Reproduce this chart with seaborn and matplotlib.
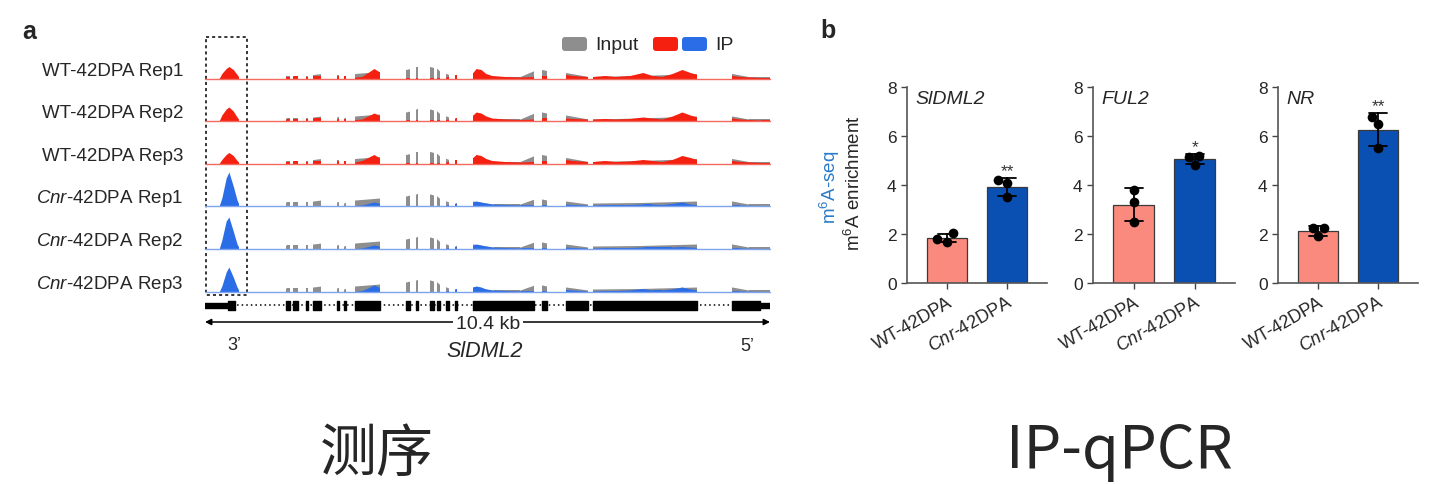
import numpy as np
import pandas as pd
import matplotlib
matplotlib.use("Agg")
import matplotlib.pyplot as plt
import seaborn as sns
from matplotlib.path import Path
from matplotlib.patches import Rectangle, FancyBboxPatch

# ---------------- data: panel a (coverage tracks, positions in kb) ----------------
gene_length_kb = 10.4
exon_start = [0.00, 1.49, 1.62, 1.86, 1.99, 2.43, 2.56, 2.76, 3.70, 3.88, 4.14, 4.27, 4.44, 4.60, 4.93, 6.20, 6.64, 7.14, 9.70]
exon_end = [0.62, 1.56, 1.71, 1.90, 2.14, 2.47, 2.60, 3.22, 3.77, 3.92, 4.21, 4.33, 4.49, 4.64, 6.06, 6.29, 7.05, 9.06, 10.40]
cds_start = [0.42, 1.49, 1.62, 1.86, 1.99, 2.43, 2.56, 2.76, 3.70, 3.88, 4.14, 4.27, 4.44, 4.60, 4.93, 6.20, 6.64, 7.14, 9.70]
cds_end = [0.55, 1.56, 1.71, 1.90, 2.14, 2.47, 2.60, 3.22, 3.77, 3.92, 4.21, 4.33, 4.49, 4.64, 6.06, 6.29, 7.05, 9.06, 10.22]
utr_start = [0.00, 10.22]
utr_end = [0.42, 10.40]

input_pos = [0.00, 0.62, 1.49, 1.56, 1.62, 1.71, 1.86, 1.90, 1.99, 2.14, 2.43, 2.47, 2.56, 2.60,
             2.76, 3.22, 3.70, 3.77, 3.88, 3.92, 4.14, 4.21, 4.27, 4.33, 4.44, 4.49, 4.60, 4.64,
             4.93, 5.30, 5.80, 6.06, 6.20, 6.29, 6.64, 7.05, 7.14, 8.00, 9.06, 9.70, 10.00, 10.40]
input_wt = [0, 0, 3, 3, 3, 3, 3, 3, 4, 5, 4, 4, 3, 3,
            5, 7, 9, 10, 12, 12, 12, 11, 10, 7, 5, 4, 3, 3,
            4, 2, 2, 8, 9, 8, 6, 2, 2, 3, 5, 5, 2, 2]
input_cnr = [0, 0, 4, 4, 4, 4, 4, 4, 5, 6, 4, 4, 3, 3,
             6, 8, 10, 11, 12, 12, 12, 11, 10, 7, 5, 4, 3, 3,
             5, 2, 2, 7, 7, 6, 5, 2, 3, 3.5, 5, 5, 2, 2]

ip_pos = [0.26, 0.31, 0.39, 0.44, 0.52, 0.59, 0.63,
          1.49, 1.56, 1.62, 1.71, 1.86, 1.90, 1.99, 2.14,
          2.43, 2.60,
          2.76, 2.89, 3.00, 3.11, 3.20, 3.22,
          3.70, 4.33, 4.44, 4.60, 4.64,
          4.93, 4.99, 5.08, 5.17, 5.28, 5.52, 5.80, 6.06,
          6.20, 6.29,
          6.64, 6.76, 7.05,
          7.14, 7.36, 7.55, 7.82, 8.06, 8.23, 8.41, 8.60, 8.78, 8.93, 9.06,
          9.70, 9.85, 10.22, 10.40]
ip_wt_rep1 = [0, 5, 10, 12, 9, 4, 1, 2, 2, 2.5, 2.5, 2, 2, 3, 3, 2.5, 2.5,
              1.5, 2, 6, 10, 7, 6, 1, 1, 1.5, 4, 4, 6, 10, 9, 5, 3, 2, 1.5, 2,
              3, 3, 4, 3, 2, 2, 3, 2, 3, 6, 3, 2, 5, 9, 6, 4, 3, 2, 1, 1]
ip_wt_rep2 = [0, 6, 12, 14, 10, 4, 1, 2, 2, 2, 2, 2, 2, 3, 3, 2, 2,
              1.5, 2, 5, 8, 6, 5, 1, 1, 1.5, 3, 3, 6, 9, 8, 5, 3, 2, 1.5, 2,
              3, 3, 3, 2.5, 2, 2, 2.5, 2, 2.5, 4, 3, 2, 5, 9, 6, 4, 3, 2, 1, 1]
ip_wt_rep3 = [0, 4, 9, 11, 8, 3, 1, 2, 2, 2.5, 2.5, 2, 2, 3, 3, 2.5, 2.5,
              1.5, 3, 6, 9, 6, 5, 1, 1, 1.5, 4, 4, 6, 9, 8, 5, 3, 2, 1.5, 2,
              3, 3, 4, 3, 2, 2, 3, 2, 2.5, 4, 3, 2, 4, 8, 6, 4, 3, 2, 1, 1]
ip_cnr_rep1 = [0, 8, 28, 34, 20, 6, 1, 0.5, 0.5, 0.5, 0.5, 0.5, 0.5, 0.5, 0.5, 0.5, 0.5,
               0.5, 1, 2.5, 4, 3, 2, 0.5, 0.5, 1, 2.5, 2.5, 4, 5, 4, 3, 2, 1.5, 1, 1,
               1, 1, 2, 1.5, 1, 1, 1.5, 1.5, 1.5, 2, 2, 1.5, 2.5, 4, 2, 1.5, 1, 1, 0.5, 0.5]
ip_cnr_rep2 = [0, 9, 28, 32, 18, 5, 1, 0.5, 0.5, 0.5, 0.5, 0.5, 0.5, 0.5, 0.5, 0.5, 0.5,
               0.5, 1, 2.5, 4, 3, 2, 0.5, 0.5, 1, 2.5, 2.5, 4, 5, 4, 3, 2, 1.5, 1, 1,
               1, 1, 2, 1.5, 1, 1, 1.5, 1.5, 1.5, 2, 2, 2, 2, 2.5, 2, 1.5, 1, 1, 0.5, 0.5]
ip_cnr_rep3 = [0, 6, 20, 25, 15, 5, 1, 0.5, 0.5, 0.5, 0.5, 0.5, 0.5, 0.5, 0.5, 0.5, 0.5,
               0.5, 1.5, 4, 7, 5, 3, 0.5, 0.5, 1, 3, 3, 5, 6, 5, 3, 2, 1.5, 1, 1,
               1, 1, 2.5, 2, 1, 1, 1.5, 1.5, 2, 3.5, 2, 2, 3, 5, 3, 2, 1, 1, 0.5, 0.5]

track_labels = ["WT-42DPA Rep1", "WT-42DPA Rep2", "WT-42DPA Rep3",
                r"$\it{Cnr}$-42DPA Rep1", r"$\it{Cnr}$-42DPA Rep2", r"$\it{Cnr}$-42DPA Rep3"]
track_genotype = ["WT", "WT", "WT", "Cnr", "Cnr", "Cnr"]
track_ip = [ip_wt_rep1, ip_wt_rep2, ip_wt_rep3, ip_cnr_rep1, ip_cnr_rep2, ip_cnr_rep3]

# ---------------- data: panel b (m6A enrichment, IP-qPCR) ----------------
groups = ["WT-42DPA", "Cnr-42DPA"]
genes = ["SlDML2", "FUL2", "NR"]
sldml2_wt = [2.03, 1.69, 1.80]
sldml2_cnr = [4.20, 4.07, 3.50]
ful2_wt = [3.81, 3.29, 2.48]
ful2_cnr = [5.20, 5.16, 4.83]
nr_wt = [2.24, 2.23, 1.90]
nr_cnr = [6.79, 6.48, 5.50]
significance = ["**", "*", "**"]
yticks = [0, 2, 4, 6, 8]

# ---------------- style ----------------
sns.set_style("ticks")
plt.rcParams["font.family"] = ["Liberation Sans", "DejaVu Sans"]
plt.rcParams["mathtext.fontset"] = "custom"
plt.rcParams["mathtext.rm"] = "Liberation Sans"
plt.rcParams["mathtext.it"] = "Liberation Sans:italic"
plt.rcParams["mathtext.bf"] = "Liberation Sans:bold"

RED = "#f5200f"
BLUE_IP = "#2b6de6"
GREY = "#8e8e8e"
WT_BAR = "#fa8a7e"
CNR_BAR = "#0a4fb2"

W, H = 1441, 485
fig = plt.figure(figsize=(W / 100, H / 100), dpi=100)


def fa(x0, y0, x1, y1):
    return [x0 / W, 1 - y1 / H, (x1 - x0) / W, (y1 - y0) / H]


ov = fig.add_axes([0, 0, 1, 1])
ov.set_xlim(0, W)
ov.set_ylim(H, 0)
ov.axis("off")

# ---------------- panel a ----------------
verts, codes = [], []
for s, e in zip(exon_start, exon_end):
    verts += [(s, -5), (e, -5), (e, 80), (s, 80), (s, -5)]
    codes += [Path.MOVETO, Path.LINETO, Path.LINETO, Path.LINETO, Path.CLOSEPOLY]
exon_clip = Path(verts, codes)

baselines = [79.5, 122, 164.5, 207, 250, 293]
track_h = 42.7
for i, base in enumerate(baselines):
    ax = fig.add_axes(fa(205, base - track_h, 770, base))
    ax.set_xlim(0, gene_length_kb)
    ax.set_ylim(0, track_h)
    ax.axis("off")
    geno = track_genotype[i]
    inp = input_wt if geno == "WT" else input_cnr
    col = RED if geno == "WT" else BLUE_IP
    line_col = "#f36a5e" if geno == "WT" else "#7ea4ef"
    g = ax.fill_between(input_pos, 0, inp, color=GREY, lw=0)
    g.set_clip_path(exon_clip, ax.transData)
    p = ax.fill_between(ip_pos, 0, track_ip[i], color=col, lw=0)
    p.set_clip_path(exon_clip, ax.transData)
    ax.plot([0, gene_length_kb], [0, 0], color=line_col, lw=1.0, clip_on=False)
    ov.text(183, base - 8, track_labels[i], ha="right", va="center", fontsize=13.5)

# gene model
gx = fig.add_axes(fa(205, 296, 770, 340))
gx.set_xlim(0, gene_length_kb)
gx.set_ylim(340, 296)
gx.axis("off")
gx.plot([0, gene_length_kb], [306, 306], color="black", lw=1.1, ls=(0, (1, 2)))
gx.broken_barh([(s, e - s) for s, e in zip(cds_start, cds_end)], (301.5, 9), color="black")
gx.broken_barh([(s, e - s) for s, e in zip(utr_start, utr_end)], (303.5, 5), color="black")
gx.annotate("", xy=(0, 323), xytext=(gene_length_kb, 323),
            arrowprops=dict(arrowstyle="<|-|>", lw=1.1, color="black", mutation_scale=9,
                            shrinkA=0, shrinkB=0))
gx.text(gene_length_kb * (488 - 205) / 565, 324.5, "10.4 kb", ha="center", va="center", fontsize=14,
        bbox=dict(fc="white", ec="none", pad=2), zorder=5)
ov.text(485, 352, "SlDML2", ha="center", va="center", fontsize=15.5, style="italic")
ov.text(234, 346, "3\u2019", ha="center", va="center", fontsize=13)
ov.text(747, 347, "5\u2019", ha="center", va="center", fontsize=13)

# dashed highlight box
ov.add_patch(Rectangle((205.5, 38), 41.5, 258, fill=False, ec="black", lw=1.1, ls=(0, (2, 2))))

# legend
ov.add_patch(FancyBboxPatch((562, 38), 25, 14, boxstyle="round,pad=0,rounding_size=3", fc=GREY, ec="none"))
ov.text(595, 45, "Input", ha="left", va="center", fontsize=14)
ov.add_patch(FancyBboxPatch((653, 38), 25, 14, boxstyle="round,pad=0,rounding_size=3", fc=RED, ec="none"))
ov.add_patch(FancyBboxPatch((682, 38), 25, 14, boxstyle="round,pad=0,rounding_size=3", fc=BLUE_IP, ec="none"))
ov.text(715, 45, "IP", ha="left", va="center", fontsize=14)

ov.text(29, 32, "a", ha="center", va="center", fontsize=18, weight="bold")
ov.text(828, 31, "b", ha="center", va="center", fontsize=18, weight="bold")

# ---------------- panel b ----------------
bar_data = [(sldml2_wt, sldml2_cnr), (ful2_wt, ful2_cnr), (nr_wt, nr_cnr)]
axes_x = [(907, 1047), (1093, 1235), (1278, 1418)]
for k, ((wt, cnr), (x0, x1)) in enumerate(zip(bar_data, axes_x)):
    ax = fig.add_axes(fa(x0, 88, x1, 284))
    df = pd.DataFrame({"group": [groups[0]] * len(wt) + [groups[1]] * len(cnr),
                       "value": list(wt) + list(cnr)})
    sns.barplot(data=df, x="group", y="value", hue="group", order=groups,
                palette={groups[0]: WT_BAR, groups[1]: CNR_BAR}, saturation=1, errorbar="sd",
                capsize=0.3, err_kws={"color": "black", "linewidth": 1.3},
                width=0.67, edgecolor="#3a3a3a", linewidth=0.9, legend=False, ax=ax)
    sns.swarmplot(data=df, x="group", y="value", order=groups, color="black", size=7, ax=ax)
    ax.set_xlim(-0.67, 1.66)
    ax.set_ylim(0, 8)
    ax.set_yticks(yticks)
    ax.set_xticks([0, 1])
    ax.set_xticklabels(["WT-42DPA", r"$\it{Cnr}$-42DPA"], rotation=30, ha="right",
                       va="top", rotation_mode="anchor", fontsize=13)
    ax.tick_params(axis="both", length=4, width=1, color="#444444", labelsize=12.5)
    ax.tick_params(axis="x", labelsize=13)
    ax.set_xlabel("")
    ax.set_ylabel("")
    sns.despine(ax=ax)
    for sp in ("left", "bottom"):
        ax.spines[sp].set_color("#555555")
        ax.spines[sp].set_linewidth(1.2)
    ax.text(0.06, 0.94, genes[k], transform=ax.transAxes, ha="left", va="center",
            fontsize=14, style="italic")
    top = np.mean(cnr) + np.std(cnr, ddof=1)
    ax.text(1, top, significance[k], ha="center", va="bottom", fontsize=12.5, color="#333333")

ov.text(854, 183, r"m$^{\mathrm{6}}$A enrichment", rotation=90, ha="center", va="center", fontsize=13.5)
ov.text(830, 187, r"m$^{\mathrm{6}}$A-seq", rotation=90, ha="center", va="center", fontsize=13.5,
        color="#2a7ac8")

# bottom captions
ov.text(377, 455, "测序", ha="center", va="center", fontsize=41, family=["Noto Sans CJK SC"])
ov.text(1119, 452, "IP-qPCR", ha="center", va="center", fontsize=43, family=["Noto Sans CJK SC"])

fig.savefig("out.png", dpi=100)
